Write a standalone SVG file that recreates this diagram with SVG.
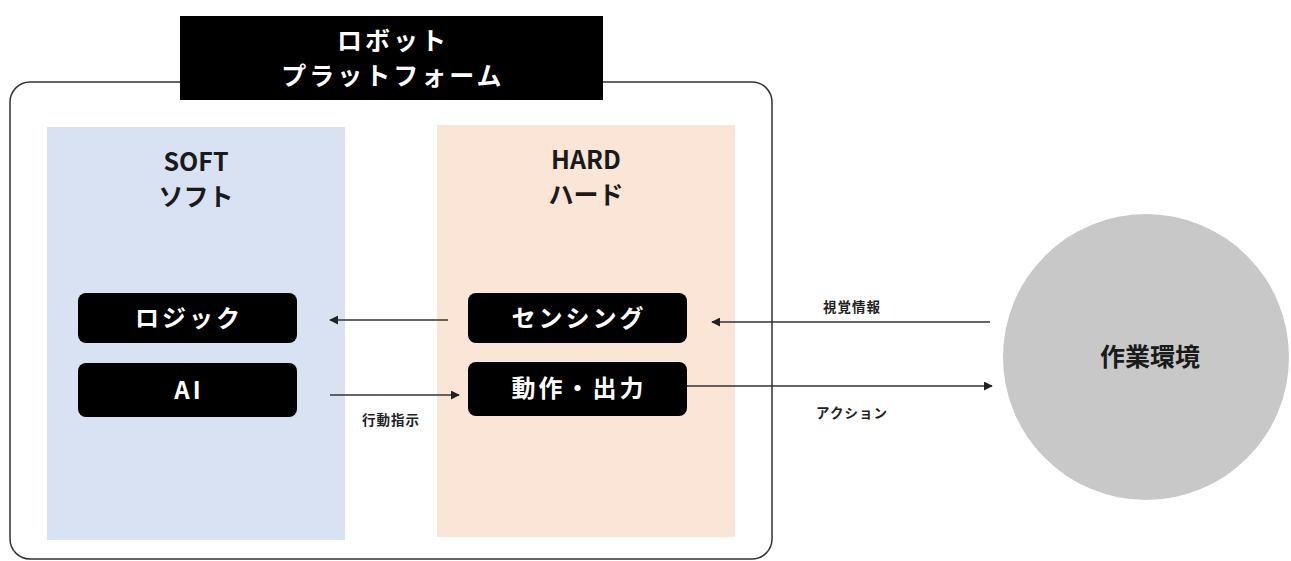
<svg xmlns="http://www.w3.org/2000/svg" width="1291" height="561" viewBox="0 0 1291 561">
<style>
text{font-family:"Noto Sans CJK JP","Noto Sans",sans-serif;text-anchor:middle}
.w{fill:#fff;font-weight:bold;font-size:24px;letter-spacing:3px}
.t{fill:#fff;font-weight:bold;font-size:25px;letter-spacing:3px}
.h{fill:#1a1a1a;font-weight:bold;font-size:25px}
.s{fill:#222;font-weight:bold;font-size:13.5px;letter-spacing:1px}
.box{fill:#000}
.ln{stroke:#333;stroke-width:1.3;fill:none;marker-end:url(#ah)}
</style>
<defs>
<marker id="ah" viewBox="0 0 10 10" refX="9" refY="5" markerWidth="9" markerHeight="9" markerUnits="userSpaceOnUse" orient="auto">
<path d="M0,0L10,5L0,10z" fill="#222"/>
</marker>
</defs>
<rect width="1291" height="561" fill="#fff"/>
<g id="platform">
<rect x="10" y="82" width="762" height="477" rx="20" fill="#fff" stroke="#333" stroke-width="1.5"/>
</g>
<g id="soft">
<rect x="47" y="127" width="298" height="413" fill="#d9e2f2"/>
<text class="h" x="196" y="171">SOFT</text>
<text class="h" x="196" y="206">ソフト</text>
</g>
<g id="hard">
<rect x="437" y="125" width="298" height="412" fill="#fbe5d6"/>
<text class="h" x="586" y="169">HARD</text>
<text class="h" x="586" y="204">ハード</text>
</g>
<g id="title">
<rect x="180" y="16" width="423" height="84" fill="#000"/>
<text class="t" x="393" y="50">ロボット</text>
<text class="t" x="393" y="85">プラットフォーム</text>
</g>
<g id="logic">
<rect class="box" x="78" y="293" width="219" height="50" rx="8"/>
<text class="w" x="189" y="327">ロジック</text>
</g>
<g id="ai">
<rect class="box" x="78" y="363" width="219" height="54" rx="8"/>
<text class="w" x="189" y="399">AI</text>
</g>
<g id="sensing">
<rect class="box" x="468" y="293" width="219" height="50" rx="8"/>
<text class="w" x="579" y="327">センシング</text>
</g>
<g id="action">
<rect class="box" x="468" y="362" width="219" height="54" rx="8"/>
<text class="w" x="579" y="397">動作・出力</text>
</g>
<g id="env">
<circle cx="1146" cy="357" r="143" fill="#c8c8c8"/>
<text class="h" x="1150" y="366">作業環境</text>
</g>
<g id="connectors">
<line class="ln" x1="448" y1="320" x2="330" y2="320"/>
<line class="ln" x1="330" y1="395" x2="459" y2="395"/>
<line class="ln" x1="990" y1="322" x2="712" y2="322"/>
<line class="ln" x1="687" y1="386" x2="992" y2="386"/>
<text class="s" x="391" y="425">行動指示</text>
<text class="s" x="852" y="312">視覚情報</text>
<text class="s" x="852" y="418">アクション</text>
</g>
</svg>
